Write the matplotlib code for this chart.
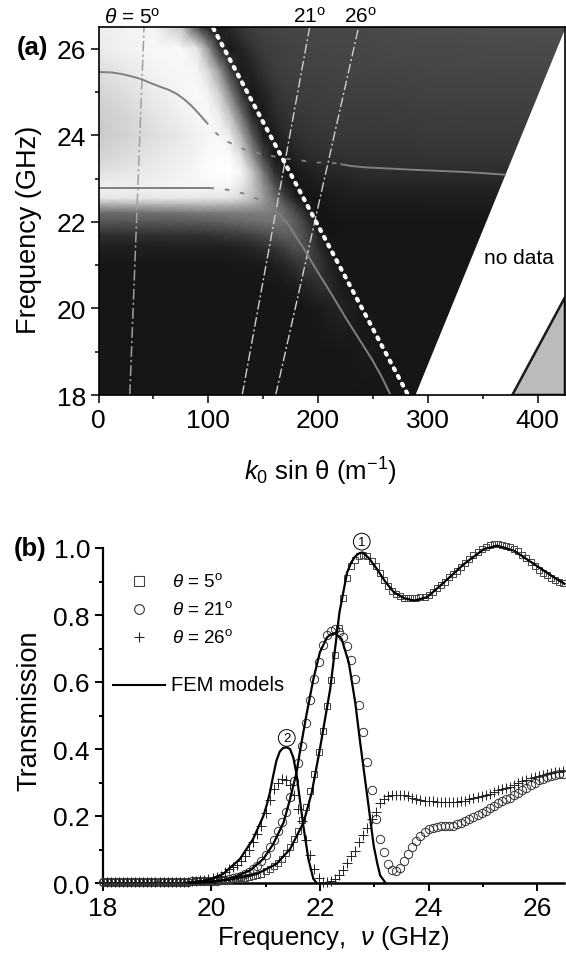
import numpy as np
import matplotlib
matplotlib.use("Agg")
import matplotlib.pyplot as plt
from matplotlib.patches import Polygon
from matplotlib.ticker import MultipleLocator

plt.rcParams["font.family"] = ["Liberation Sans", "DejaVu Sans"]
plt.rcParams["mathtext.fontset"] = "custom"
plt.rcParams["mathtext.rm"] = "Liberation Sans"
plt.rcParams["mathtext.it"] = "Liberation Sans:italic"
plt.rcParams["mathtext.bf"] = "Liberation Sans:bold"

W, H = 566, 954

# panel (a): gray levels
map_k = [0, 25, 50, 75, 90, 100, 110, 120, 130, 140, 150, 160, 170, 180, 190, 200, 210, 220, 230, 240, 260, 300, 350, 425]
map_f = [26.5, 26, 25.5, 25, 24.5, 24, 23.5, 23.15, 22.8, 22.55, 22.4, 22.2, 22, 21.7, 21.4, 21, 20.5, 20, 19, 18]
map_gray = [
    [238, 243, 245, 200, 80, 30, 25, 40, 55, 62, 66, 68, 70, 70, 70, 72, 72, 72, 72, 72, 74, 76, 78, 78],
    [235, 242, 248, 248, 230, 150, 50, 25, 35, 50, 60, 64, 66, 68, 68, 70, 70, 70, 70, 70, 72, 72, 74, 74],
    [222, 232, 243, 248, 245, 215, 150, 60, 25, 35, 50, 60, 64, 64, 66, 66, 66, 68, 68, 68, 68, 70, 70, 70],
    [212, 222, 236, 246, 250, 240, 205, 130, 50, 22, 35, 50, 58, 60, 62, 62, 64, 64, 64, 64, 64, 66, 66, 66],
    [205, 214, 228, 240, 246, 250, 235, 190, 110, 35, 25, 40, 50, 56, 58, 60, 60, 60, 60, 60, 60, 62, 62, 62],
    [202, 210, 222, 233, 241, 246, 250, 235, 175, 90, 28, 28, 40, 48, 52, 54, 56, 56, 56, 56, 56, 58, 58, 58],
    [212, 220, 230, 238, 244, 250, 252, 250, 225, 150, 70, 24, 25, 35, 42, 46, 48, 50, 50, 50, 50, 52, 52, 52],
    [226, 230, 236, 242, 248, 252, 254, 255, 245, 200, 120, 50, 22, 24, 30, 35, 38, 40, 42, 44, 44, 44, 44, 44],
    [240, 240, 242, 245, 246, 246, 246, 244, 230, 200, 150, 90, 40, 20, 24, 28, 30, 32, 34, 36, 36, 36, 36, 36],
    [232, 232, 232, 232, 232, 230, 228, 226, 215, 190, 155, 110, 65, 30, 20, 22, 26, 28, 30, 30, 30, 30, 30, 30],
    [175, 178, 180, 182, 185, 185, 182, 180, 175, 165, 150, 125, 90, 50, 22, 22, 24, 26, 26, 26, 26, 28, 28, 28],
    [105, 108, 112, 115, 118, 120, 122, 124, 125, 125, 125, 120, 105, 75, 35, 20, 22, 24, 24, 24, 24, 24, 24, 24],
    [85, 86, 88, 90, 92, 94, 96, 100, 104, 108, 112, 115, 112, 90, 55, 22, 20, 22, 22, 22, 22, 22, 22, 22],
    [48, 48, 48, 50, 50, 52, 54, 58, 62, 68, 75, 85, 95, 95, 70, 35, 20, 22, 22, 22, 22, 22, 22, 22],
    [30, 30, 30, 30, 30, 30, 30, 32, 34, 38, 44, 52, 65, 80, 75, 48, 24, 22, 22, 22, 22, 22, 22, 22],
    [23, 23, 23, 23, 23, 23, 23, 24, 24, 25, 27, 30, 38, 50, 62, 58, 35, 22, 22, 22, 22, 22, 22, 22],
    [22, 22, 22, 22, 22, 22, 22, 22, 22, 22, 22, 23, 25, 28, 36, 45, 45, 28, 22, 22, 22, 22, 22, 22],
    [22, 22, 22, 22, 22, 22, 22, 22, 22, 22, 22, 22, 22, 22, 23, 26, 32, 36, 30, 22, 22, 22, 22, 22],
    [22, 22, 22, 22, 22, 22, 22, 22, 22, 22, 22, 22, 22, 22, 22, 22, 22, 23, 24, 26, 24, 22, 22, 22],
    [22, 22, 22, 22, 22, 22, 22, 22, 22, 22, 22, 22, 22, 22, 22, 22, 22, 22, 22, 22, 22, 22, 22, 22],
]

light_k = [104.6, 281.6]
light_f = [26.47, 18.02]
theta5_k = [28.5, 41.5]
theta21_k = [130.9, 192.4]
theta26_k = [161.4, 237]
theta_f = [18, 26.5]

nodata_k = [288.8, 425, 425]
nodata_f = [18, 26.45, 18]
metal_k = [377, 425, 425]
metal_f = [18, 20.26, 18]

upper_k1 = [0.8, 12, 22.2, 30, 38.6, 47, 55, 64, 71.6, 78, 84.7, 91, 97.2]
upper_f1 = [25.46, 25.45, 25.41, 25.36, 25.3, 25.21, 25.13, 25.05, 24.95, 24.83, 24.68, 24.51, 24.33]
upper_k2 = [97.2, 107.8, 117.7, 135.8, 153.8, 170.3, 183.5, 200, 218, 221.3]
upper_f2 = [24.33, 24.03, 23.85, 23.64, 23.54, 23.46, 23.42, 23.37, 23.35, 23.33]
upper_k3 = [221.3, 230, 242.7, 265, 288.8, 334.8, 370.4]
upper_f3 = [23.33, 23.29, 23.26, 23.23, 23.2, 23.15, 23.09]
lower_k1 = [0.8, 101.2]
lower_f1 = [22.78, 22.78]
lower_k2 = [101.2, 107.8, 121, 134, 145.6, 155.4, 160.5]
lower_f2 = [22.78, 22.77, 22.73, 22.64, 22.52, 22.41, 22.29]
lower_k3 = [160.5, 167, 173.6, 188, 200, 213, 226, 238, 249, 258, 265.7]
lower_f3 = [22.29, 22.12, 21.91, 21.34, 20.83, 20.3, 19.75, 19.27, 18.83, 18.42, 18.02]

# panel (b): measured points
freq = np.linspace(18, 26.475, 114)
t5 = [0.003] * 20 + [
    .003, .004, .004, .005, .005, .005, .006, .006, .007, .008,
    .009, .010, .011, .012, .014, .016, .018, .021, .024, .028,
    .036, .042, .050, .060, .071, .090, .108, .131, .155, .188,
    .226, .274, .325, .390, .455, .528, .605, .680, .760, .850,
    .910, .945, .965, .975, .980, .975, .962, .945, .925, .905,
    .887, .873, .862, .856, .852, .850, .850, .851, .853, .855,
    .861, .870, .880, .890, .900, .912, .922, .932, .943, .955,
    .967, .978, .988, .997, 1.004, 1.009, 1.011, 1.011, 1.010, 1.007,
    1.003, .997, .990, .980, .970, .958, .946, .934, .925, .918, .910, .905, .900, .895,
]
t21 = [0.003] * 20 + [
    .004, .004, .005, .005, .005, .006, .006, .007, .007, .008,
    .010, .012, .015, .018, .022, .027, .033, .041, .052, .067,
    .084, .106, .129, .155, .182, .213, .256, .305, .357, .408,
    .478, .546, .610, .660, .710, .740, .752, .757, .750, .735,
    .708, .665, .610, .530, .450, .362, .278, .190, .132, .092,
    .057, .039, .036, .046, .066, .088, .107, .124, .140, .153,
    .161, .165, .168, .169, .170, .170, .171, .175, .179, .184,
    .190, .197, .203, .210, .216, .224, .231, .238, .245, .250,
    .255, .264, .270, .277, .285, .292, .300, .306, .311, .315, .320, .322, .324, .326,
]
t26 = [0.003] * 20 + [
    .003, .004, .005, .006, .008, .010, .012, .015, .018, .022,
    .032, .041, .048, .055, .067, .082, .100, .122, .146, .170,
    .210, .248, .280, .300, .310, .308, .293, .264, .220, .185,
    .128, .085, .043, .015, .004, .003, .006, .013, .024, .040,
    .060, .080, .097, .122, .143, .165, .190, .213, .238, .252,
    .259, .262, .263, .263, .263, .259, .255, .252, .248, .246,
    .245, .244, .243, .243, .243, .243, .243, .243, .244, .246,
    .250, .254, .258, .261, .264, .267, .272, .277, .281, .285,
    .288, .293, .298, .303, .307, .312, .316, .320, .323, .326, .328, .330, .331, .333,
]

# FEM model curves
fem5_f = [19.6, 19.85, 20.34, 20.84, 21.2, 21.45, 21.7, 21.85, 22.0, 22.19, 22.36, 22.5, 22.58, 22.65, 22.72, 22.785, 22.9, 23.05, 23.2, 23.36, 23.55, 23.73, 23.97, 24.28, 24.65, 25.02, 25.26, 25.57, 25.94, 26.31, 26.5]
fem5_t = [0, .002, .010, .027, .057, .101, .181, .270, .400, .580, .808, .927, .958, .975, .984, .987, .970, .937, .900, .868, .850, .843, .853, .897, .952, .997, 1.007, .992, .952, .912, .893]
fem21_f = [19.6, 19.97, 20.34, 20.71, 20.96, 21.14, 21.33, 21.45, 21.57, 21.635, 21.75, 21.88, 22.0, 22.13, 22.2, 22.28, 22.4, 22.53, 22.65, 22.74, 22.87, 22.99, 23.06, 23.11, 23.2]
fem21_t = [0, .002, .012, .037, .072, .116, .180, .250, .330, .395, .500, .609, .689, .733, .742, .746, .728, .659, .539, .420, .261, .111, .055, .022, .002]
fem26_f = [19.5, 19.91, 20.22, 20.53, 20.77, 20.96, 21.02, 21.08, 21.14, 21.2, 21.26, 21.32, 21.39, 21.45, 21.51, 21.57, 21.63, 21.7, 21.79, 21.88, 21.94]
fem26_t = [0, .007, .027, .072, .131, .200, .232, .270, .320, .365, .392, .403, .405, .400, .375, .325, .250, .165, .070, .012, 0]

fig = plt.figure(figsize=(W / 100, H / 100), dpi=100)


def px_axes(left, top, right, bottom):
    return fig.add_axes([left / W, 1 - bottom / H, (right - left) / W, (bottom - top) / H])


def px_text(x, y, s, **kw):
    kw.setdefault("ha", "center")
    kw.setdefault("va", "center")
    fig.text(x / W, 1 - y / H, s, **kw)


# ---- panel a
ax = px_axes(98.5, 28, 565, 396)
ax.pcolormesh(map_k, map_f, np.array(map_gray), shading="gouraud", cmap="gray", vmin=0, vmax=255, zorder=1, rasterized=True)
ax.add_patch(Polygon(list(zip(nodata_k, nodata_f)), closed=True, fc="white", ec="none", zorder=2))
ax.add_patch(Polygon(list(zip(metal_k, metal_f)), closed=True, fc="#bbbbbb", ec="#1a1a1a", lw=1.8, zorder=3))

ax.plot(theta5_k, theta_f, color="#a0a0a0", lw=1.1, ls=(0, (7, 2, 1.5, 2)), zorder=4)
ax.plot(theta21_k, theta_f, color="#cfcfcf", lw=1.0, ls=(0, (7, 2, 1.5, 2)), zorder=4)
ax.plot(theta26_k, theta_f, color="#cfcfcf", lw=1.0, ls=(0, (7, 2, 1.5, 2)), zorder=4)

for k_vals, f_vals in [(upper_k1, upper_f1), (upper_k3, upper_f3), (lower_k1, lower_f1), (lower_k3, lower_f3)]:
    ax.plot(k_vals, f_vals, color="#808080", lw=1.4, zorder=5)
for k_vals, f_vals in [(upper_k2, upper_f2), (lower_k2, lower_f2)]:
    ax.plot(k_vals, f_vals, color="#808080", lw=1.3, ls=(0, (2.5, 6)), zorder=5)

ax.plot(light_k, light_f, color="white", lw=3, ls=(0, (0.5, 1.6)), dash_capstyle="round", zorder=6)

ax.set_xlim(0, 425)
ax.set_ylim(18, 26.5)
ax.set_xticks([0, 100, 200, 300, 400])
ax.set_yticks([18, 20, 22, 24, 26])
ax.xaxis.set_minor_locator(MultipleLocator(50))
ax.yaxis.set_minor_locator(MultipleLocator(1))
ax.tick_params(which="major", length=6, width=1.1, labelsize=19, pad=3)
ax.tick_params(which="minor", length=3, width=1.1)
for s in ax.spines.values():
    s.set_linewidth(1.2)
    s.set_zorder(8)

px_text(519, 259, "no data", fontsize=15)
px_text(32, 48, "(a)", fontsize=18.5, fontweight="bold")
px_text(29, 230, "Frequency (GHz)", fontsize=19.5, rotation=90)
px_text(320, 472, r"$k_{0}$ sin θ (m$^{-1}$)", fontsize=18.5)
px_text(132, 18, r"$\theta$ = 5$^{\mathrm{o}}$", fontsize=15)
px_text(309, 17, r"21$^{\mathrm{o}}$", fontsize=15)
px_text(360, 17, r"26$^{\mathrm{o}}$", fontsize=15)

# ---- panel b
bx = px_axes(102.5, 549, 564.5, 884)
bx.plot(freq, t5, ls="none", marker="s", ms=5, mfc="none", mec="#444444", mew=0.7, clip_on=False, zorder=3)
bx.plot(freq, t21, ls="none", marker="o", ms=6, mfc="none", mec="#333333", mew=0.7, clip_on=False, zorder=3)
bx.plot(freq, t26, ls="none", marker="+", ms=6.5, mec="#222222", mew=0.7, clip_on=False, zorder=3)
bx.plot(fem5_f, fem5_t, color="black", lw=1.6, zorder=4, clip_on=False)
bx.plot(fem21_f, fem21_t, color="black", lw=1.6, zorder=4)
bx.plot(fem26_f, fem26_t, color="black", lw=1.6, zorder=4)

bx.set_xlim(18, 26.5)
bx.set_ylim(0, 1)
bx.set_xticks([18, 20, 22, 24, 26])
bx.set_yticks([0, 0.2, 0.4, 0.6, 0.8, 1.0])
bx.xaxis.set_minor_locator(MultipleLocator(1))
bx.yaxis.set_minor_locator(MultipleLocator(0.1))
bx.tick_params(which="major", length=6, width=1.4, labelsize=19, pad=3)
bx.tick_params(which="minor", length=3, width=1.4)
bx.spines["top"].set_visible(False)
bx.spines["right"].set_visible(False)
bx.spines["left"].set_linewidth(1.6)
bx.spines["bottom"].set_linewidth(1.8)

circle = dict(boxstyle="circle,pad=0.18", fc="white", ec="black", lw=0.7)
bx.text(22.77, 1.019, "1", fontsize=9.5, ha="center", va="center", bbox=circle, clip_on=False, zorder=5)
bx.text(21.39, 0.433, "2", fontsize=9.5, ha="center", va="center", bbox=circle, clip_on=False, zorder=5)

# legend placed by hand, same as the original figure
key = fig.add_axes([0, 0, 1, 1], facecolor="none")
key.set_xlim(0, W)
key.set_ylim(H, 0)
key.axis("off")
key.plot([139], [582], marker="s", ms=6.5, mfc="none", mec="#444444", mew=0.8)
key.plot([139], [610], marker="o", ms=7, mfc="none", mec="#333333", mew=0.8)
key.plot([139], [638], marker="+", ms=7.5, mec="#222222", mew=0.8)
key.plot([113, 165], [686, 686], color="black", lw=1.5)
px_text(172, 582, r"$\theta$ = 5$^{\mathrm{o}}$", fontsize=13.5, ha="left")
px_text(172, 610, r"$\theta$ = 21$^{\mathrm{o}}$", fontsize=13.5, ha="left")
px_text(172, 638, r"$\theta$ = 26$^{\mathrm{o}}$", fontsize=13.5, ha="left")
px_text(171, 686, "FEM models", fontsize=14.5, ha="left")

px_text(30, 549, "(b)", fontsize=18.5, fontweight="bold")
px_text(29, 711, "Transmission", fontsize=19.5, rotation=90)
px_text(333, 938, r"Frequency,  $\nu$ (GHz)", fontsize=18.5)

fig.savefig("out.png", dpi=100)
